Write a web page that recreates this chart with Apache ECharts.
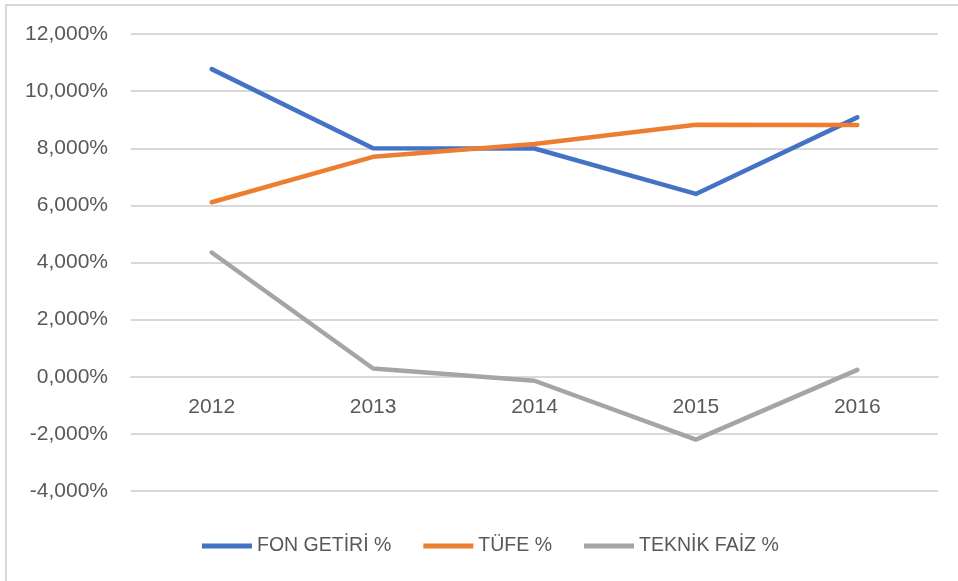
<!DOCTYPE html>
<html>
<head>
<meta charset="utf-8">
<script src="https://cdn.jsdelivr.net/npm/echarts@6/dist/echarts.min.js"></script>
<style>
  html, body { margin: 0; padding: 0; background: #fff; }
  #chart { width: 958px; height: 581px; }
</style>
</head>
<body>
<div id="chart"></div>
<script>
const years = ['2012', '2013', '2014', '2015', '2016']
const fonGetiri = [10.77, 8.0, 7.99, 6.4, 9.08]
const tufe = [6.11, 7.7, 8.15, 8.82, 8.81]
const teknikFaiz = [4.35, 0.29, -0.14, -2.2, 0.24]
const seriesNames = ['FON GETİRİ %', 'TÜFE %', 'TEKNİK FAİZ %']
const seriesColors = ['#4472c4', '#ed7d31', '#a5a5a5']

const textColor = '#595959'
const font = "'Liberation Sans', Arial, sans-serif"

const chart = echarts.init(document.getElementById('chart'))

const makeLine = (name, data, color) => ({
  name,
  type: 'line',
  data,
  showSymbol: false,
  symbol: 'none',
  lineStyle: { width: 4.5, color, cap: 'round', join: 'round' },
  itemStyle: { color }
})

chart.setOption({
  animation: false,
  graphic: [{
    type: 'rect',
    shape: { x: 6, y: 5, width: 1000, height: 1000 },
    style: { fill: 'none', stroke: '#d9d9d9', lineWidth: 2 },
    silent: true
  }],
  grid: { left: 131, right: 20, top: 34, bottom: 90 },
  legend: {
    data: seriesNames,
    left: 197,
    top: 531,
    itemWidth: 50,
    itemHeight: 5,
    itemGap: 32,
    icon: 'rect',
    textStyle: { color: textColor, fontSize: 19.5, fontFamily: font }
  },
  xAxis: {
    type: 'category',
    data: years,
    boundaryGap: true,
    // category labels sit under the 0 line, like the original
    offset: -114,
    axisLine: { onZero: false, lineStyle: { color: '#d9d9d9', width: 2 } },
    axisTick: { show: false },
    axisLabel: { color: textColor, fontSize: 21, fontFamily: font, margin: 20 }
  },
  yAxis: {
    type: 'value',
    min: -4,
    max: 12,
    interval: 2,
    axisLine: { show: false },
    axisTick: { show: false },
    splitLine: { lineStyle: { color: '#d9d9d9', width: 2 } },
    axisLabel: {
      color: textColor,
      fontSize: 21,
      fontFamily: font,
      margin: 23,
      formatter: v => v.toFixed(3).replace('.', ',') + '%'
    }
  },
  series: [
    makeLine(seriesNames[0], fonGetiri, seriesColors[0]),
    makeLine(seriesNames[1], tufe, seriesColors[1]),
    makeLine(seriesNames[2], teknikFaiz, seriesColors[2])
  ]
})
</script>
</body>
</html>
